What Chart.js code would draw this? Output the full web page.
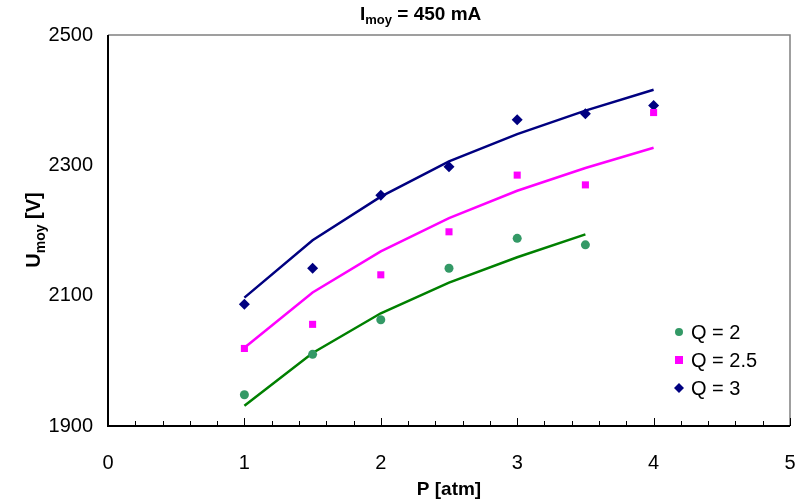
<!DOCTYPE html>
<html>
<head>
<meta charset="utf-8">
<script src="https://cdn.jsdelivr.net/npm/chart.js@4"></script>
<style>
  html, body { margin: 0; padding: 0; background: #fff; }
  #wrap { width: 797px; height: 500px; }
</style>
</head>
<body>
<div id="wrap"><canvas id="chart" width="797" height="500"></canvas></div>
<script>
// Pressure values (x)
const pressure = [1, 1.5, 2, 2.5, 3, 3.5, 4];

// Measured points
const q2Measured = [1948, 2010, 2063, 2142, 2188, 2178];
const q25Measured = [2019, 2056, 2132, 2198, 2285, 2270, 2381];
const q3Measured = [2087, 2142, 2254, 2298, 2370, 2379, 2392];

// Fitted curves
const q2Fit = [1931, 2012, 2073, 2120, 2159, 2194];
const q25Fit = [2020, 2105, 2168, 2219, 2261, 2296, 2327];
const q3Fit = [2097, 2185, 2252, 2306, 2348, 2384, 2416];

const seriesLabels = ['Q = 2', 'Q = 2.5', 'Q = 3'];
const xTicks = [0, 1, 2, 3, 4, 5];
const yTicks = [1900, 2100, 2300, 2500];

const FONT = '"Liberation Sans", Arial, sans-serif';

function toPoints(values) {
    return values.map((v, i) => ({ x: pressure[i], y: v }));
}

function scatterSet(label, values, color, style, radius) {
    return {
        label: label,
        data: toPoints(values),
        showLine: false,
        pointStyle: style,
        pointRadius: radius,
        pointBackgroundColor: color,
        pointBorderColor: color,
        pointBorderWidth: 0,
        order: 1
    };
}

function lineSet(values, color) {
    return {
        label: '',
        data: toPoints(values),
        showLine: true,
        borderColor: color,
        borderWidth: 2.5,
        pointRadius: 0,
        tension: 0,
        fill: false,
        order: 2
    };
}

// Frame, minor ticks, titles and legend
const decorations = {
    id: 'decorations',
    afterDatasetsDraw(chart) {
        const ctx = chart.ctx;
        const area = chart.chartArea;
        const x = chart.scales.x;

        ctx.save();
        // top / right border (grey)
        ctx.strokeStyle = '#808080';
        ctx.lineWidth = 1.5;
        ctx.beginPath();
        ctx.moveTo(area.left, area.top);
        ctx.lineTo(area.right, area.top);
        ctx.lineTo(area.right, area.bottom);
        ctx.stroke();

        // left / bottom axes (black)
        ctx.strokeStyle = '#000';
        ctx.lineWidth = 2;
        ctx.beginPath();
        ctx.moveTo(area.left, area.top);
        ctx.lineTo(area.left, area.bottom);
        ctx.lineTo(area.right, area.bottom);
        ctx.stroke();

        // x ticks pointing inward
        ctx.lineWidth = 1;
        for (let i = 0; i <= 25; i++) {
            const v = i * 0.2;
            const px = Math.round(x.getPixelForValue(v)) + 0.5;
            const len = (i % 5 === 0) ? 8 : 5;
            ctx.beginPath();
            ctx.moveTo(px, area.bottom);
            ctx.lineTo(px, area.bottom - len);
            ctx.stroke();
        }

        ctx.fillStyle = '#000';

        // chart title: I_moy = 450 mA
        ctx.textBaseline = 'alphabetic';
        ctx.textAlign = 'left';
        let tx = 360;
        const ty = 20;
        ctx.font = 'bold 19px ' + FONT;
        ctx.fillText('I', tx, ty);
        tx += ctx.measureText('I').width;
        ctx.font = 'bold 13px ' + FONT;
        ctx.fillText('moy', tx, ty + 4);
        tx += ctx.measureText('moy').width;
        ctx.font = 'bold 19px ' + FONT;
        ctx.fillText(' = 450 mA', tx, ty);

        // x axis title
        ctx.textAlign = 'center';
        ctx.font = 'bold 19px ' + FONT;
        ctx.fillText('P [atm]', (area.left + area.right) / 2, 495);

        // y axis title, rotated
        ctx.save();
        ctx.translate(40, 230);
        ctx.rotate(-Math.PI / 2);
        ctx.textAlign = 'left';
        ctx.font = 'bold 20px ' + FONT;
        const w1 = ctx.measureText('U').width;
        ctx.font = 'bold 14px ' + FONT;
        const w2 = ctx.measureText('moy').width;
        ctx.font = 'bold 20px ' + FONT;
        const w3 = ctx.measureText(' [V]').width;
        let sx = -(w1 + w2 + w3) / 2;
        ctx.fillText('U', sx, 0);
        sx += w1;
        ctx.font = 'bold 14px ' + FONT;
        ctx.fillText('moy', sx, 5);
        sx += w2;
        ctx.font = 'bold 20px ' + FONT;
        ctx.fillText(' [V]', sx, 0);
        ctx.restore();

        // legend for the measured series
        ctx.textAlign = 'left';
        ctx.textBaseline = 'middle';
        ctx.font = '20px ' + FONT;
        const markers = chart.data.datasets.filter(d => !d.showLine);
        markers.forEach((d, i) => {
            const ly = 332 + i * 28;
            ctx.fillStyle = d.pointBackgroundColor;
            const r = 4;
            ctx.beginPath();
            if (d.pointStyle === 'rect') {
                ctx.rect(679 - r, ly - r, 2 * r, 2 * r);
            } else if (d.pointStyle === 'rectRot') {
                ctx.moveTo(679, ly - r - 1);
                ctx.lineTo(679 + r + 1, ly);
                ctx.lineTo(679, ly + r + 1);
                ctx.lineTo(679 - r - 1, ly);
                ctx.closePath();
            } else {
                ctx.arc(679, ly, r, 0, Math.PI * 2);
            }
            ctx.fill();
            ctx.fillStyle = '#000';
            ctx.fillText(seriesLabels[i], 691, ly + 1);
        });

        ctx.restore();
    }
};

new Chart(document.getElementById('chart'), {
    type: 'scatter',
    data: {
        datasets: [
            scatterSet(seriesLabels[0], q2Measured, '#339966', 'circle', 4.5),
            scatterSet(seriesLabels[1], q25Measured, '#ff00ff', 'rect', 5),
            scatterSet(seriesLabels[2], q3Measured, '#000080', 'rectRot', 5.5),
            lineSet(q2Fit, '#008000'),
            lineSet(q25Fit, '#ff00ff'),
            lineSet(q3Fit, '#000080')
        ]
    },
    options: {
        responsive: false,
        animation: false,
        layout: {
            padding: { left: 0, right: 7, top: 35, bottom: 0 }
        },
        plugins: {
            legend: { display: false },
            title: { display: false },
            tooltip: { enabled: false }
        },
        scales: {
            x: {
                type: 'linear',
                min: 0,
                max: 5,
                afterBuildTicks: axis => { axis.ticks = xTicks.map(v => ({ value: v })); },
                grid: { display: false, drawTicks: false },
                border: { display: false },
                ticks: {
                    padding: 25,
                    color: '#000',
                    font: { family: FONT, size: 20 },
                    callback: v => String(v)
                },
                afterFit: axis => {
                    axis.height = 74;
                    axis.paddingLeft = 0;
                    axis.paddingRight = 0;
                }
            },
            y: {
                type: 'linear',
                min: 1900,
                max: 2500,
                afterBuildTicks: axis => { axis.ticks = yTicks.map(v => ({ value: v })); },
                grid: { display: false, drawTicks: false },
                border: { display: false },
                ticks: {
                    padding: 15,
                    color: '#000',
                    font: { family: FONT, size: 20 },
                    callback: v => String(v)
                },
                afterFit: axis => {
                    axis.width = 108;
                    axis.paddingTop = 0;
                    axis.paddingBottom = 0;
                }
            }
        }
    },
    plugins: [decorations]
});
</script>
</body>
</html>
